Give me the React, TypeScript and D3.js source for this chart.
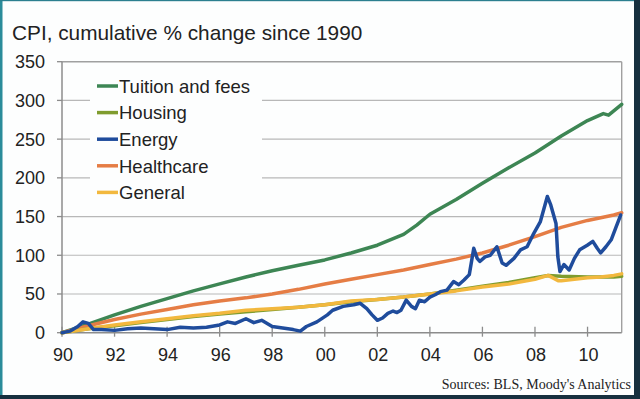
import React from "react";
import * as d3 from "d3";

const title = "CPI, cumulative % change since 1990";
const source = "Sources: BLS, Moody's Analytics";

const seriesNames = ["Tuition and fees", "Housing", "Energy", "Healthcare", "General"];
const seriesColors = ["#3d8654", "#7f9c2e", "#1f4c9c", "#e57d45", "#f2b83e"];

const yTicks = [0, 50, 100, 150, 200, 250, 300, 350];
const xTickYears = [1990, 1992, 1994, 1996, 1998, 2000, 2002, 2004, 2006, 2008, 2010];

const tuitionYears = [1990, 1991, 1992, 1993, 1994, 1995, 1996, 1997, 1998, 1999, 2000, 2001, 2002, 2003, 2003.5, 2004, 2005, 2006, 2007, 2008, 2009, 2010, 2010.6, 2010.8, 2011.3];
const tuitionValues = [0, 11, 23, 34, 44, 54, 63, 72, 80, 87, 94, 103, 113, 127, 139, 153, 172, 193, 213, 232, 254, 274, 283, 281, 295];

const housingYears = [1990, 1991, 1992, 1993, 1994, 1995, 1996, 1997, 1998, 1999, 2000, 2001, 2002, 2003, 2004, 2005, 2006, 2007, 2008, 2008.5, 2009, 2010, 2011, 2011.3];
const housingValues = [0, 5, 9, 13, 17, 21, 24, 27, 30, 33, 36, 40, 43, 46, 50, 55, 60, 65, 71, 74, 73, 72, 72, 73];

const energyYears = [1990, 1990.3, 1990.6, 1990.8, 1991, 1991.2, 1991.5, 1992, 1992.5, 1993, 1993.5, 1994, 1994.5, 1995, 1995.5, 1996, 1996.3, 1996.6, 1997, 1997.3, 1997.6, 1998, 1998.4, 1998.8, 1999.07, 1999.3, 1999.7, 2000.1, 2000.3, 2000.7, 2001.1, 2001.35, 2001.6, 2001.8, 2002, 2002.2, 2002.4, 2002.6, 2002.75, 2002.9, 2003.1, 2003.3, 2003.45, 2003.6, 2003.8, 2004, 2004.2, 2004.4, 2004.65, 2004.9, 2005.1, 2005.3, 2005.5, 2005.67, 2005.8, 2005.9, 2006.1, 2006.3, 2006.55, 2006.75, 2006.9, 2007.2, 2007.45, 2007.7, 2007.95, 2008.2, 2008.47, 2008.6, 2008.8, 2008.87, 2008.95, 2009.1, 2009.3, 2009.5, 2009.7, 2009.99, 2010.2, 2010.37, 2010.5, 2010.7, 2010.9, 2011.07, 2011.26];
const energyValues = [0, 2, 8, 14, 12, 4, 4, 3, 5, 6, 5, 4, 7, 6, 7, 10, 14, 12, 18, 13, 16, 8, 6, 4, 2, 8, 14, 23, 29, 34, 36, 38, 31, 23, 16, 19, 25, 28, 26, 29, 42, 34, 31, 42, 40, 46, 49, 53, 55, 66, 62, 68, 75, 109, 96, 92, 98, 100, 111, 90, 87, 96, 107, 111, 128, 143, 176, 165, 141, 98, 79, 88, 81, 96, 107, 113, 118, 109, 103, 111, 120, 135, 152];

const healthYears = [1990, 1991, 1992, 1993, 1994, 1995, 1996, 1997, 1998, 1999, 2000, 2001, 2002, 2003, 2004, 2005, 2006, 2007, 2008, 2009, 2010, 2011, 2011.3];
const healthValues = [0, 9, 17, 24, 30, 36, 41, 45, 50, 56, 63, 69, 75, 81, 88, 95, 103, 113, 124, 136, 145, 152, 155];

const generalYears = [1990, 1991, 1992, 1993, 1994, 1995, 1996, 1997, 1998, 1999, 2000, 2001, 2002, 2003, 2004, 2005, 2006, 2007, 2008, 2008.5, 2008.9, 2009, 2009.5, 2010, 2010.5, 2011, 2011.3];
const generalValues = [0, 5, 10, 14, 18, 22, 25, 29, 31, 33, 36, 41, 43, 46, 50, 54, 59, 63, 69, 74, 67, 67, 69, 71, 72, 74, 76];

const seriesYears = [tuitionYears, housingYears, energyYears, healthYears, generalYears];
const seriesValues = [tuitionValues, housingValues, energyValues, healthValues, generalValues];
// draw order: background first
const drawOrder = [0, 3, 1, 4, 2];

export default function App() {
  const W = 640, H = 399;
  const left = 62, right = 621.7, top = 61.7, bottom = 332.7;
  const x = d3.scaleLinear().domain([1990, 2011.3]).range([left, right]);
  const y = d3.scaleLinear().domain([0, 350]).range([bottom, top]);
  const line = d3.line<[number, number]>().x(d => x(d[0])).y(d => y(d[1])).curve(d3.curveLinear);

  const legendX0 = 97, legendX1 = 118, legendY0 = 86, legendDy = 26.6;

  return (
    <svg width={W} height={H} style={{ position: "absolute", left: 0, top: 0, background: "#fff" }}
      fontFamily="'Liberation Sans', Arial, sans-serif">
      <rect x={0} y={0} width={W} height={H} fill="#fdfefe" />
      {/* frame */}
      <rect x={0} y={0} width={2.5} height={H} fill="#2b8c9a" />
      <rect x={0} y={0} width={W} height={1.2} fill="#2b7f8f" />
      <rect x={634} y={0} width={6} height={H} fill="#17303f" />
      <rect x={0} y={395} width={W} height={4} fill="#17303f" />

      <text x={12} y={39.5} fontSize={20.8} fill="#222">{title}</text>

      {/* gridlines */}
      {yTicks.filter(t => t > 0 && t < 350).map(t => (
        <line key={"g" + t} x1={left} x2={right} y1={y(t)} y2={y(t)} stroke="#b8b8b8" strokeWidth={1.2} />
      ))}
      {/* plot frame top/right */}
      <line x1={left} x2={right} y1={y(350)} y2={y(350)} stroke="#a0a0a0" strokeWidth={1.4} />
      <line x1={right} x2={right} y1={top} y2={bottom} stroke="#a0a0a0" strokeWidth={1.4} />

      {/* legend background */}
      <rect x={90} y={70} width={172} height={134} fill="#fdfefe" />

      {/* axes */}
      <line x1={left} x2={left} y1={top} y2={bottom} stroke="#8c8c8c" strokeWidth={1.5} />
      <line x1={left} x2={right} y1={bottom} y2={bottom} stroke="#8c8c8c" strokeWidth={1.5} />
      {yTicks.map(t => (
        <g key={"y" + t}>
          <line x1={left - 5} x2={left} y1={y(t)} y2={y(t)} stroke="#8c8c8c" strokeWidth={1.3} />
          <text x={45} y={y(t) + 6.5} fontSize={18} textAnchor="end" fill="#222">{t}</text>
        </g>
      ))}
      {xTickYears.map(t => (
        <g key={"x" + t}>
          <line x1={x(t)} x2={x(t)} y1={bottom - 6} y2={bottom + 4} stroke="#8c8c8c" strokeWidth={1.3} />
          <text x={x(t) + 1} y={361} fontSize={18} textAnchor="middle" fill="#222">{String(t % 100).padStart(2, "0")}</text>
        </g>
      ))}

      {/* series */}
      {drawOrder.map(i => (
        <path key={"s" + i}
          d={line(seriesYears[i].map((yr, k) => [yr, seriesValues[i][k]] as [number, number])) || ""}
          fill="none" stroke={seriesColors[i]} strokeWidth={3.5} strokeLinejoin="round" strokeLinecap="round" />
      ))}

      {/* legend */}
      {seriesNames.map((n, i) => (
        <g key={"l" + i}>
          <line x1={legendX0} x2={legendX1} y1={legendY0 + i * legendDy} y2={legendY0 + i * legendDy}
            stroke={seriesColors[i]} strokeWidth={3.5} />
          <text x={legendX1 + 1} y={legendY0 + i * legendDy + 6.8} fontSize={18.5} fill="#222">{n}</text>
        </g>
      ))}

      <text x={631} y={389} fontSize={14} textAnchor="end" fill="#222"
        fontFamily="'Liberation Serif', 'DejaVu Serif', serif">{source}</text>
    </svg>
  );
}
